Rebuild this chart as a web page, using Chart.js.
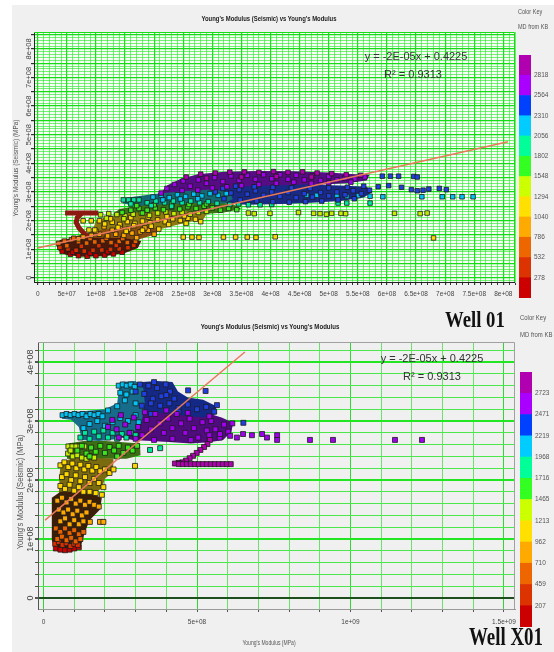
<!DOCTYPE html>
<html lang="en">
<head>
<meta charset="UTF-8">
<title>Young's Modulus (Seismic) vs Young's Modulus</title>
<script src="https://cdn.jsdelivr.net/npm/chart.js"></script>
<style>
    body {
        margin: 0;
        width: 554px;
        height: 652px;
        overflow: hidden;
        position: relative;
        background: #fff;
        font-family: 'Liberation Sans', Arial, sans-serif;
    }
    #bg { position: absolute; left: 12px; top: 5px; right: 0; bottom: 0; background: #f0f0f0; }
    .box { position: absolute; }
    .txt { position: absolute; white-space: nowrap; color: #222; }
    .ctr { text-align: center; width: 300px; }
    .rot { transform: translate(-50%, -50%) rotate(-90deg) scaleX(0.9); color: #555; }
    .well { font: bold 24px/24px 'Liberation Serif', 'Times New Roman', serif; color: #111; transform-origin: left center; }
    .eq { font-size: 11px; line-height: 13px; color: #333; width: 200px; text-align: center; }
    .key { font-size: 6.5px; line-height: 8px; color: #555; transform-origin: left center; transform: scaleX(0.85); }
</style>
</head>
<body>
<div id="bg"></div>

<div class="box" style="left:0;top:0;width:520px;height:310px"><canvas id="topChart"></canvas></div>
<div class="box" style="left:519px;top:55px;width:35px;height:243px"><canvas id="topKey"></canvas></div>
<div class="box" style="left:0;top:312px;width:520px;height:340px"><canvas id="botChart"></canvas></div>
<div class="box" style="left:520px;top:372px;width:34px;height:255px"><canvas id="botKey"></canvas></div>

<div class="txt ctr" style="left:119px;top:14px;font:bold 8px/10px 'Liberation Sans';transform:scaleX(0.74)">Young's Modulus (Seismic) vs Young's Modulus</div>
<div class="txt ctr" style="left:120px;top:322px;font:bold 8px/10px 'Liberation Sans';transform:scaleX(0.76)">Young's Modulus (Seismic) vs Young's Modulus</div>
<div class="txt rot" style="left:15px;top:168px;font-size:7.2px">Young's Modulus (Seismic) (MPa)</div>
<div class="txt rot" style="left:20px;top:492px;font-size:8.5px">Young's Modulus (Seismic) (MPa)</div>
<div class="txt ctr" style="left:119px;top:638px;font-size:7px;line-height:9px;color:#555;transform:scaleX(0.72)">Young's Modulus (MPa)</div>

<div class="txt eq" style="left:316px;top:50px">y = -2E-05x + 0.4225</div>
<div class="txt eq" style="left:313px;top:68px">R² = 0.9313</div>
<div class="txt eq" style="left:332px;top:352px">y = -2E-05x + 0.4225</div>
<div class="txt eq" style="left:332px;top:370px">R² = 0.9313</div>

<div class="txt key" style="left:518px;top:8px">Color Key</div>
<div class="txt key" style="left:518px;top:23px">MD from KB</div>
<div class="txt key" style="left:520px;top:314px;font-size:7px">Color Key</div>
<div class="txt key" style="left:520px;top:331px;font-size:7px">MD from KB (m)</div>

<div class="txt well" style="left:445px;top:307px;transform:scaleX(0.78)">Well 01</div>
<div class="txt well" style="left:469px;top:624px;font-size:25px;line-height:25px;transform:scaleX(0.756)">Well X01</div>

<script>
    // all values in millions of MPa (axis labels are formatted back to e-notation)
    const topXTicks = [0, 50, 100, 150, 200, 250, 300, 350, 400, 450, 500, 550, 600, 650, 700, 750, 800];
    const topYTicks = [0, 100, 200, 300, 400, 500, 600, 700, 800];
    const botXTicks = [0, 500, 1000, 1500];
    const botYTicks = [0, 100, 200, 300, 400];

    // colour key (MD from KB), band edges bottom to top
    const topKeyEdges = [24, 278, 532, 786, 1040, 1294, 1548, 1802, 2056, 2310, 2564, 2818, 3072];
    const botKeyEdges = [-45, 207, 459, 710, 962, 1213, 1465, 1716, 1968, 2219, 2471, 2723, 2975];
    const keyColors = ['#cc0000', '#dd3300', '#ee6600', '#ffaa00', '#ffe000', '#ccff00',
                       '#33ff22', '#00ff99', '#00ccff', '#0040ff', '#aa00ff', '#b000b0'];
    const pointColors = ['#c80000', '#d83000', '#e86200', '#ffa800', '#ffd800', '#c4f000',
                         '#3be61a', '#00e8a0', '#00c4f4', '#1f3fe0', '#a000f0', '#b000b0'];

    // Well 01 points by MD band (band 1 = shallowest)
    const w01Band1 = [[42,92],[56,82],[70,77],[85,75],[100,77],[115,79],[130,83],[145,89],[60,89],[90,86],[120,91]];
    const w01Band2 = [[38,106],[52,101],[66,96],[80,93],[95,96],[110,97],[125,99],[140,101],[155,105],[75,110],[105,112],[135,113],[165,113]];
    const w01Band3 = [[36,120],[46,128],[58,133],[70,126],[84,121],[98,125],[112,129],[126,123],[140,127],[154,123],[168,127],[62,138],[90,137],[118,138],[146,137],[50,112]];
    const w01Band4 = [[78,142],[92,148],[106,152],[120,146],[134,152],[148,148],[162,156],[176,160],[190,166],[100,162],[128,166],[156,170],[184,174],[114,178],[142,180],[200,152],[70,136],[170,140]];
    const w01Band5 = [[88,167],[98,167],[78,199],[92,199],[106,199],[115,188],[128,194],[141,186],[154,196],[167,190],[180,198],[193,192],[206,202],[219,196],[232,206],[245,200],[258,208],[271,204],[125,206],[160,210],[190,212],[222,214],[252,216],[138,176],[165,182],[195,180],[225,186],[255,190],[280,196],[152,162],[180,166],[208,170],[250,142],[265,142],[277,141],[319,142],[340,142],[360,142],[375,141],[408,143],[680,139]];
    const w01Band6 = [[108,220],[122,224],[136,221],[150,216],[164,222],[178,226],[192,218],[206,226],[220,230],[234,224],[248,228],[262,222],[276,228],[290,232],[362,226],[372,224],[399,225],[448,228],[474,225],[485,224],[496,222],[505,225],[521,225],[529,224],[613,225],[657,224],[669,226],[118,208],[148,206]];
    const w01Band7 = [[160,236],[174,242],[188,236],[202,244],[216,238],[230,246],[244,240],[258,248],[272,242],[286,250],[300,244],[314,236],[328,242],[342,238],[170,252],[200,255],[230,258],[260,256],[290,258],[145,228],[180,226]];
    const w01Band8 = [[147,272],[156,272],[165,272],[174,272],[188,262],[203,268],[218,262],[233,268],[248,262],[263,268],[278,262],[293,266],[308,260],[330,256],[345,258],[362,255],[382,255],[402,256],[516,261],[531,261],[571,261],[160,258],[195,252],[230,250]];
    const w01Band9 = [[198,282],[212,288],[226,280],[240,290],[254,284],[268,292],[282,286],[296,294],[310,288],[324,294],[462,288],[479,288],[514,287],[531,284],[551,287],[571,285],[593,283],[660,283],[695,283],[713,283],[729,283],[748,283],[215,272],[245,275],[275,276]];
    const w01Band10 = [[305,300],[318,312],[332,296],[346,308],[360,292],[374,304],[388,288],[402,300],[416,284],[430,298],[444,280],[458,294],[472,282],[486,298],[500,286],[514,300],[528,290],[542,304],[556,294],[570,306],[320,276],[348,272],[376,268],[404,266],[432,264],[460,266],[488,268],[516,272],[544,276],[340,320],[372,318],[404,316],[436,314],[468,312],[500,314],[532,316],[560,320],[592,355],[606,355],[620,355],[646,354],[652,352],[585,318],[603,322],[625,316],[642,308],[652,304],[662,306],[672,310],[690,312],[702,308]];
    const w01Band11 = [[212,296],[222,312],[235,326],[250,338],[262,320],[276,342],[290,330],[304,350],[318,336],[332,356],[346,340],[360,358],[374,344],[388,360],[402,346],[416,360],[430,344],[444,358],[458,342],[472,356],[486,340],[500,354],[514,342],[528,348],[545,345],[562,352],[248,305],[275,306],[300,314],[325,318],[350,322],[380,326],[410,330],[440,334],[470,330],[500,332],[538,334]];
    const w01Band12 = [[255,352],[280,362],[305,366],[330,369],[355,370],[380,368],[405,371],[430,368],[455,370],[480,366],[505,364],[530,360],[555,358],[290,348],[350,352],[410,354],[470,352]];
    const w01HookBar = [[47,226],[104,226]];
    const w01HookCurve = [[76,226],[68,210],[66,193],[71,174],[79,156],[87,140]];
    const w01Fit = [[0,104],[808,475]];

    // dense cloud outlines under the squares
    const w01HullRed = [[33,112],[38,132],[65,140],[110,140],[150,138],[178,128],[172,104],[150,86],[115,75],[75,73],[48,80],[36,95]];
    const w01HullOrange = [[60,122],[65,145],[95,162],[140,175],[185,182],[210,170],[200,150],[170,132],[130,120],[90,112]];
    const w01HullYellow = [[95,170],[100,198],[120,215],[160,226],[210,232],[260,232],[290,222],[285,205],[250,190],[215,172],[180,155],[140,145],[110,150]];
    const w01HullGreen = [[130,222],[140,240],[175,252],[230,258],[290,262],[335,258],[350,240],[320,228],[270,220],[210,214],[160,212]];
    const w01HullCyan = [[145,260],[155,280],[200,293],[250,302],[300,308],[330,300],[335,275],[320,258],[270,250],[210,248],[170,250]];
    const w01HullBlue = [[300,262],[300,300],[340,318],[400,322],[460,326],[520,322],[565,318],[575,300],[560,280],[520,268],[470,262],[420,258],[360,255]];
    const w01HullPurple = [[210,292],[222,322],[245,345],[275,362],[320,370],[380,373],[440,372],[500,368],[545,362],[570,360],[565,340],[530,330],[490,326],[440,320],[390,314],[340,305],[300,296],[260,290]];

    // Well X01 points by MD band
    const x01Band1 = [[40,84],[55,82],[70,81],[85,82],[100,84],[115,86]];
    const x01Band2 = [[38,92],[50,95],[62,90],[75,93],[88,88],[100,92],[112,90]];
    const x01Band3 = [[40,118],[55,112],[70,118],[85,110],[100,115],[115,108],[130,112],[45,100],[60,104],[75,98],[90,102],[105,96],[120,100]];
    const x01Band4 = [[45,165],[60,170],[75,162],[90,168],[105,160],[120,165],[135,158],[150,163],[165,158],[180,155],[50,150],[65,145],[80,150],[95,142],[110,148],[125,140],[140,145],[151,129],[184,129],[195,129],[55,130],[70,135],[85,125],[100,132],[115,125],[130,130]];
    const x01Band5 = [[55,225],[68,230],[81,222],[94,228],[107,220],[120,226],[133,218],[146,224],[159,216],[172,222],[185,215],[200,218],[215,212],[228,218],[60,205],[75,210],[90,200],[105,208],[120,198],[135,205],[150,195],[165,202],[180,195],[195,188],[55,190],[70,185],[85,192],[100,182],[115,188],[130,180],[150,180],[170,178],[190,175],[298,224]];
    const x01Band6 = [[81,257],[94,257],[107,257],[120,257],[133,257],[80,245],[95,240],[110,242],[125,238],[140,236],[88,250],[150,240],[165,238]];
    const x01Band7 = [[140,245],[155,255],[170,248],[185,258],[200,246],[215,256],[230,250],[245,258],[260,246],[275,255],[290,250],[305,258],[110,250],[125,258],[150,240],[240,240]];
    const x01Band8 = [[120,272],[135,280],[150,270],[165,282],[180,274],[195,284],[210,272],[225,280],[240,270],[255,278],[270,272],[285,280],[300,276],[347,251],[380,254]];
    const x01Band9 = [[62,310],[75,312],[88,310],[101,312],[114,310],[127,312],[140,308],[153,312],[166,310],[179,312],[192,308],[245,360],[258,362],[271,360],[284,362],[297,358],[250,348],[270,345],[290,350],[150,295],[175,300],[200,292],[225,298],[250,305],[275,300],[300,310],[130,288],[210,318],[240,325],[265,335],[310,298],[300,330]];
    const x01Band10 = [[300,350],[314,362],[328,346],[342,360],[356,338],[370,356],[384,342],[398,362],[412,350],[426,338],[320,326],[350,330],[380,326],[410,330],[440,322],[470,328],[500,320],[530,324],[556,316],[471,352],[528,351],[565,327],[651,297],[350,312],[440,316],[400,344],[360,366]];
    const x01Band11 = [[210,290],[224,302],[238,286],[252,310],[266,294],[280,280],[294,306],[308,290],[322,276],[336,302],[350,286],[364,312],[378,296],[392,280],[406,304],[420,288],[434,312],[448,296],[462,280],[476,304],[490,288],[504,272],[518,298],[532,284],[546,300],[560,286],[574,272],[588,294],[602,282],[615,296],[245,272],[300,270],[360,268],[420,270],[480,268],[540,276],[330,315],[400,318],[470,314],[540,308],[575,278],[608,275],[630,272],[650,278],[679,276],[712,278],[728,272],[761,276],[761,268],[868,268],[943,268],[1145,268],[1233,268]];
    const x01Band12 = [[542,268],[534,261],[523,256],[511,251],[499,246],[487,241],[476,237],[464,233],[452,230],[440,229],[428,228],[441,227],[454,227],[467,227],[480,227],[493,227],[506,227],[519,227],[532,227],[545,227],[558,227],[571,227],[584,227],[597,227],[610,227]];
    const x01Fit = [[5,132],[656,417]];

    const x01HullDark = [[27,98],[27,170],[55,180],[110,180],[160,176],[190,170],[184,150],[150,132],[135,112],[122,88],[100,80],[60,80],[35,86]];
    const x01HullYellow = [[50,178],[52,206],[56,230],[100,238],[160,238],[228,236],[226,214],[200,202],[190,186],[160,176],[110,172],[70,172]];
    const x01HullGreen = [[76,236],[80,262],[130,266],[200,266],[260,264],[314,262],[316,242],[270,236],[200,236],[140,234]];
    const x01HullCyan = [[60,304],[62,315],[120,316],[200,320],[240,330],[245,350],[250,366],[300,368],[325,356],[330,330],[320,300],[300,284],[250,270],[180,266],[125,268],[115,290],[90,302]];
    const x01HullBlue = [[298,334],[305,356],[322,366],[370,368],[420,366],[438,350],[470,340],[520,336],[560,326],[565,312],[520,306],[450,310],[380,314],[320,318]];
    const x01HullPurple = [[206,298],[222,312],[260,318],[320,320],[390,322],[460,320],[530,314],[580,306],[618,297],[612,282],[585,268],[540,264],[480,262],[420,264],[350,266],[290,268],[240,274],[212,284]];

    const FONT = "'Liberation Sans', Arial, sans-serif";
    Chart.defaults.font.family = FONT;

    const toXY = arr => arr.map(([x, y]) => ({ x, y }));
    const isMul = (v, m) => Math.abs(v / m - Math.round(v / m)) < 1e-6;
    const has = (list, v) => list.some(t => Math.abs(t - v) < 1e-6);
    function fmt(v) {
        if (Math.abs(v) < 1e-9) return '0';
        return (v * 1e6).toExponential().replace(/e\+(\d)$/, 'e+0$1');
    }

    function bandSets(bands, radius) {
        return bands.map((b, i) => ({
            data: toXY(b),
            backgroundColor: pointColors[i],
            borderColor: '#1c1c1c',
            borderWidth: 0.8,
            pointStyle: 'rect',
            pointRadius: radius,
            order: 12 - i
        }));
    }
    function hullSets(hulls) {
        return hulls.map(([pts, color]) => ({
            data: toXY(pts),
            showLine: true,
            fill: 'shape',
            backgroundColor: color,
            borderWidth: 0,
            pointRadius: 0,
            order: 30
        }));
    }
    function lineSet(pts, color, width, order) {
        return { data: toXY(pts), showLine: true, fill: false, borderColor: color, borderWidth: width, pointRadius: 0, order: order };
    }

    // plot background, top/right frame and rotated y tick labels
    function decor(bg, frame, yLabels, labelX, font) {
        return {
            id: 'decor',
            beforeDatasetsDraw(chart) {
                if (!bg) return;
                const a = chart.chartArea, c = chart.ctx;
                c.save();
                c.globalCompositeOperation = 'destination-over';
                c.fillStyle = bg;
                c.fillRect(a.left, a.top, a.right - a.left, a.bottom - a.top);
                c.restore();
            },
            afterDraw(chart) {
                const a = chart.chartArea, c = chart.ctx, s = chart.scales.y;
                c.save();
                c.strokeStyle = frame;
                c.lineWidth = 1;
                c.beginPath();
                c.moveTo(a.left, a.top + 0.5);
                c.lineTo(a.right - 0.5, a.top + 0.5);
                c.lineTo(a.right - 0.5, a.bottom);
                c.stroke();
                c.font = font;
                c.fillStyle = '#444';
                c.textAlign = 'center';
                c.textBaseline = 'middle';
                yLabels.forEach(v => {
                    c.save();
                    c.translate(labelX, s.getPixelForValue(v));
                    c.rotate(-Math.PI / 2);
                    c.fillText(fmt(v), 0, 0);
                    c.restore();
                });
                c.restore();
            }
        };
    }

    const topMinor = 'rgba(40,232,40,0.62)';
    const topMajor = '#16dc16';

    // ---- Well 01 ----
    new Chart(document.getElementById('topChart'), {
        type: 'scatter',
        data: {
            datasets: [
                lineSet(w01Fit, '#e8785a', 1.5, 0),
                lineSet(w01HookBar, '#8d1a10', 5, 13),
                lineSet(w01HookCurve, '#8d1a10', 5, 13),
                ...bandSets([w01Band1, w01Band2, w01Band3, w01Band4, w01Band5, w01Band6,
                             w01Band7, w01Band8, w01Band9, w01Band10, w01Band11, w01Band12], 3.2),
                ...hullSets([[w01HullRed, '#4e1808'], [w01HullOrange, '#8a4c0e'], [w01HullYellow, '#8c7a10'],
                             [w01HullGreen, '#3a7414'], [w01HullCyan, '#146a72'], [w01HullBlue, '#182a86'],
                             [w01HullPurple, '#560c84']])
            ]
        },
        options: {
            responsive: true,
            maintainAspectRatio: false,
            devicePixelRatio: 1,
            animation: false,
            events: [],
            layout: { padding: { left: 29, top: 32, right: 5, bottom: 10 } },
            plugins: { legend: { display: false }, tooltip: { enabled: false } },
            scales: {
                x: {
                    type: 'linear', min: -6.4, max: 820,
                    afterFit: s => { s.height = 18; s.paddingLeft = 0; s.paddingRight = 0; },
                    ticks: {
                        stepSize: 10, includeBounds: false, autoSkip: false, maxRotation: 0, minRotation: 0, padding: 5,
                        color: '#444', font: { size: 6.5 },
                        callback: v => has(topXTicks, v) ? fmt(v) : ''
                    },
                    grid: {
                        color: c => isMul(c.tick.value, 50) ? topMajor : topMinor,
                        lineWidth: c => isMul(c.tick.value, 50) ? 1.2 : 1,
                        tickLength: 3, tickColor: '#333'
                    },
                    border: { color: '#222', width: 1 }
                },
                y: {
                    type: 'linear', min: -15, max: 859,
                    afterFit: s => { s.width = 5; s.paddingTop = 0; s.paddingBottom = 0; },
                    ticks: { display: false, stepSize: 10, includeBounds: false, autoSkip: false },
                    grid: {
                        color: c => isMul(c.tick.value, 50) ? topMajor : topMinor,
                        lineWidth: c => isMul(c.tick.value, 50) ? 1.2 : 1,
                        tickLength: 3,
                        tickColor: c => isMul(c.tick.value, 50) ? '#333' : 'rgba(0,0,0,0)'
                    },
                    border: { color: '#222', width: 1 }
                }
            }
        },
        plugins: [decor('#f8fdf8', '#16dc16', topYTicks, 29, '7.5px ' + FONT)]
    });

    // ---- Well X01 ----
    new Chart(document.getElementById('botChart'), {
        type: 'scatter',
        data: {
            datasets: [
                lineSet(x01Fit, '#e8785a', 1.5, 0),
                ...bandSets([x01Band1, x01Band2, x01Band3, x01Band4, x01Band5, x01Band6,
                             x01Band7, x01Band8, x01Band9, x01Band10, x01Band11, x01Band12], 3.5),
                ...hullSets([[x01HullDark, '#3a1e08'], [x01HullYellow, '#7a6a10'], [x01HullGreen, '#3c6e14'],
                             [x01HullCyan, '#166c8a'], [x01HullBlue, '#142886'], [x01HullPurple, '#4e0c7c']])
            ]
        },
        options: {
            responsive: true,
            maintainAspectRatio: false,
            devicePixelRatio: 1,
            animation: false,
            events: [],
            layout: { padding: { left: 33, top: 30, right: 5, bottom: 25 } },
            plugins: { legend: { display: false }, tooltip: { enabled: false } },
            scales: {
                x: {
                    type: 'linear', min: -18, max: 1536,
                    afterFit: s => { s.height = 18; s.paddingLeft = 0; s.paddingRight = 0; },
                    ticks: {
                        stepSize: 100, includeBounds: false, autoSkip: false, maxRotation: 0, minRotation: 0, padding: 6,
                        color: '#444', font: { size: 6.5 },
                        callback: v => has(botXTicks, v) ? fmt(v) : ''
                    },
                    grid: {
                        color: c => isMul(c.tick.value, 500) ? '#2fd82f' : 'rgba(80,225,80,0.85)',
                        lineWidth: 1, tickLength: 3, tickColor: '#555'
                    },
                    border: { color: '#999', width: 1 }
                },
                y: {
                    type: 'linear', min: -18.6, max: 434,
                    afterFit: s => { s.width = 5; s.paddingTop = 0; s.paddingBottom = 0; },
                    ticks: { display: false, stepSize: 20, includeBounds: false, autoSkip: false },
                    grid: {
                        color: c => Math.abs(c.tick.value) < 1e-9 ? '#1c4f1c' : (isMul(c.tick.value, 100) ? '#22e622' : '#4be84b'),
                        lineWidth: c => isMul(c.tick.value, 100) ? 2 : 1,
                        tickLength: 3, tickColor: '#555'
                    },
                    border: { color: '#555', width: 1 }
                }
            }
        },
        plugins: [decor(null, '#a0a0a0', botYTicks, 31, '9px ' + FONT)]
    });

    // ---- colour keys ----
    function keyChart(id, edges, axisWidth) {
        const ticks = edges.slice(1, -1);
        new Chart(document.getElementById(id), {
            type: 'bar',
            data: {
                labels: [''],
                datasets: keyColors.map((col, i) => ({
                    data: [[edges[i], edges[i + 1]]],
                    backgroundColor: col,
                    borderWidth: 0,
                    grouped: false,
                    barPercentage: 1,
                    categoryPercentage: 1
                }))
            },
            options: {
                responsive: true,
                maintainAspectRatio: false,
                devicePixelRatio: 1,
                animation: false,
                events: [],
                layout: { padding: 0 },
                plugins: { legend: { display: false }, tooltip: { enabled: false } },
                scales: {
                    x: { display: false },
                    y: {
                        position: 'right',
                        min: edges[0], max: edges[edges.length - 1],
                        afterBuildTicks: s => { s.ticks = ticks.map(v => ({ value: v })); },
                        afterFit: s => { s.width = axisWidth; s.paddingTop = 0; s.paddingBottom = 0; },
                        grid: { display: false, drawTicks: false },
                        border: { display: false },
                        ticks: { color: '#555', font: { size: 6.5 }, padding: 3, callback: v => String(v) }
                    }
                }
            }
        });
    }
    keyChart('topKey', topKeyEdges, 23);
    keyChart('botKey', botKeyEdges, 22);
</script>
</body>
</html>
